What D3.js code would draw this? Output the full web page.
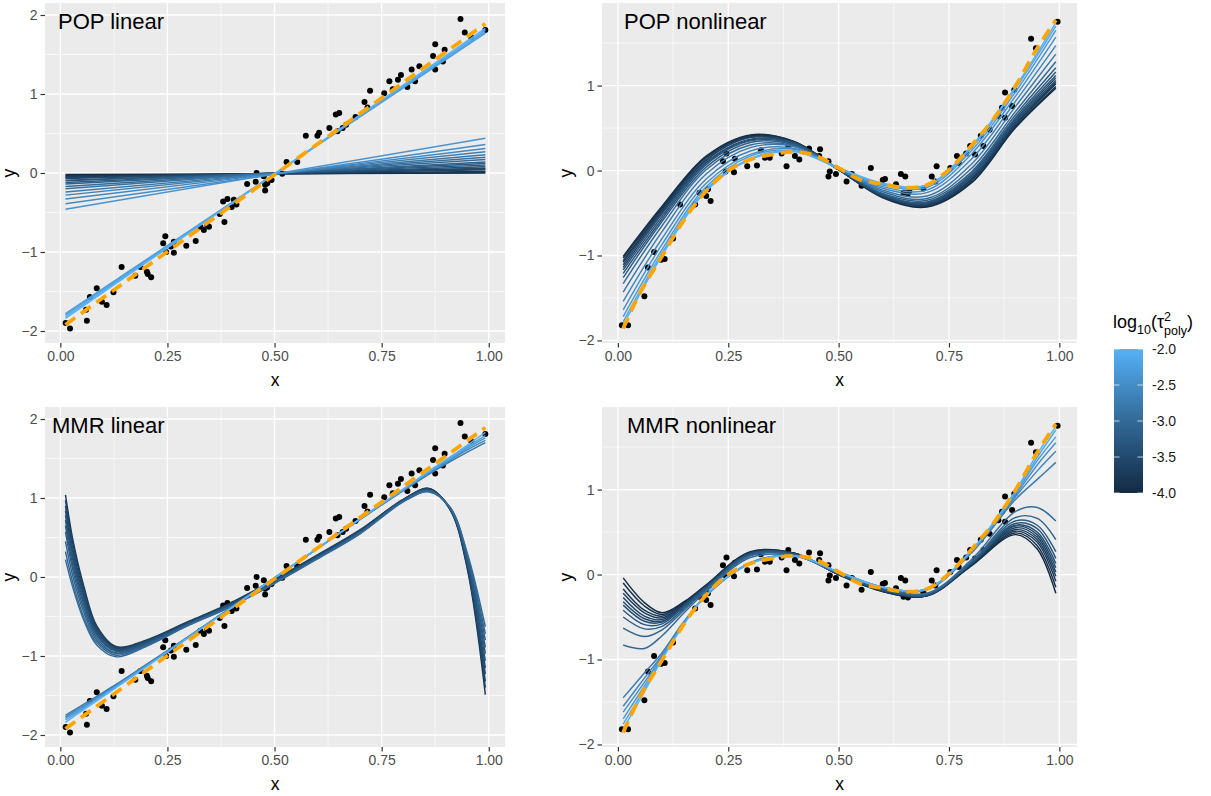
<!DOCTYPE html>
<html>
<head>
<meta charset="utf-8">
<script src="https://cdn.jsdelivr.net/npm/d3@7"></script>
<style>
  body { margin: 0; background: #fff; }
  svg { font-family: "Liberation Sans", Arial, sans-serif; }
</style>
</head>
<body>
<svg id="chart" width="1211" height="796"></svg>
<script>
// ---- tick labels ----
const xTicks = [0, 0.25, 0.5, 0.75, 1];
const xTickLabels = ["0.00", "0.25", "0.50", "0.75", "1.00"];
const xMinor = [0.125, 0.375, 0.625, 0.875];
const yTicksLin = [-2, -1, 0, 1, 2];
const yTicksNon = [-2, -1, 0, 1];
const yMinor = [-1.5, -0.5, 0.5, 1.5];
const legendBreaks = [-2, -2.5, -3, -3.5, -4];
const legendLabels = ["-2.0", "-2.5", "-3.0", "-3.5", "-4.0"];

// ---- observed points ----
const linPoints = [
  [0.0125,-1.90],[0.0226,-1.97],[0.060,-1.73],[0.062,-1.87],[0.069,-1.57],[0.085,-1.46],[0.097,-1.63],
  [0.108,-1.67],[0.124,-1.51],[0.143,-1.19],[0.175,-1.30],[0.187,-1.19],[0.202,-1.25],[0.204,-1.28],
  [0.212,-1.32],[0.240,-0.89],[0.245,-0.80],[0.247,-1.00],[0.258,-0.93],[0.265,-0.87],[0.265,-1.01],
  [0.294,-0.92],[0.316,-0.86],[0.327,-0.68],[0.335,-0.72],[0.343,-0.66],[0.347,-0.68],[0.372,-0.52],
  [0.380,-0.36],[0.383,-0.62],[0.390,-0.33],[0.400,-0.43],[0.405,-0.34],[0.411,-0.40],[0.436,-0.14],
  [0.456,-0.11],[0.458,0.00],[0.475,-0.04],[0.478,-0.15],[0.478,-0.22],[0.483,-0.13],[0.493,-0.09],
  [0.518,-0.01],[0.528,0.14],[0.553,0.14],[0.573,0.47],[0.600,0.47],[0.604,0.51],[0.628,0.57],
  [0.643,0.74],[0.651,0.76],[0.647,0.53],[0.659,0.57],[0.667,0.61],[0.689,0.71],[0.710,0.90],
  [0.717,0.83],[0.723,1.04],[0.756,1.01],[0.768,1.16],[0.776,1.06],[0.788,1.18],[0.795,1.24],
  [0.810,1.09],[0.820,1.31],[0.828,1.16],[0.838,1.35],[0.870,1.48],[0.875,1.63],[0.875,1.31],
  [0.893,1.41],[0.897,1.56],[0.934,1.95],[0.944,1.78],[0.959,1.72],[0.992,1.81]
];
const nonPoints = [
  [0.009,-1.82],[0.023,-1.82],[0.060,-1.48],[0.068,-1.14],[0.082,-0.96],[0.098,-1.05],[0.106,-1.04],
  [0.125,-0.80],[0.141,-0.40],[0.175,-0.40],[0.185,-0.26],[0.200,-0.30],[0.210,-0.36],[0.204,-0.22],
  [0.238,0.11],[0.244,-0.01],[0.246,0.20],[0.263,-0.02],[0.265,0.14],[0.293,0.05],[0.315,0.06],
  [0.324,0.24],[0.333,0.15],[0.344,0.15],[0.371,0.20],[0.382,0.05],[0.386,0.29],[0.401,0.17],
  [0.411,0.13],[0.433,0.26],[0.458,0.25],[0.456,0.17],[0.477,0.11],[0.477,-0.07],[0.480,-0.01],
  [0.494,-0.04],[0.518,-0.13],[0.530,-0.04],[0.552,-0.18],[0.573,0.03],[0.600,-0.11],[0.605,-0.10],
  [0.630,-0.16],[0.641,-0.04],[0.651,-0.07],[0.647,-0.26],[0.657,-0.27],[0.660,-0.24],[0.692,-0.21],
  [0.711,-0.07],[0.722,0.05],[0.719,-0.13],[0.753,0.03],[0.768,0.17],[0.772,0.09],[0.789,0.20],
  [0.798,0.29],[0.809,0.19],[0.822,0.41],[0.828,0.29],[0.842,0.48],[0.862,0.64],[0.870,0.74],
  [0.877,0.92],[0.877,0.62],[0.893,0.76],[0.898,0.95],[0.936,1.55],[0.947,1.44],[0.996,1.75]
];

// ---- true functions (orange dashed) ----
const truthLinX = [0.012, 0.992];
const truthLinY = [-1.92, 1.89];
const truthNonX = [0.012, 0.05, 0.1, 0.15, 0.2, 0.25, 0.3, 0.35, 0.4, 0.45, 0.5, 0.55, 0.6, 0.65, 0.7, 0.75, 0.8, 0.85, 0.9, 0.95, 0.992];
const truthNonY = [-1.86, -1.44, -1.01, -0.58, -0.24, 0.0, 0.13, 0.19, 0.22, 0.17, 0.03, -0.11, -0.16, -0.2, -0.17, 0.01, 0.29, 0.6, 0.99, 1.44, 1.77];

// ---- POP linear fits ----
const popLinX = [0.012, 0.992];
const popLinTau = [-4, -3.9, -3.8, -3.7, -3.6, -3.5, -3.4, -3.3, -3.2, -3.1, -3, -2.9, -2.8, -2.7, -2.6, -2.5, -2.4, -2.3, -2.2, -2.1, -2];
const popLinY = [
  [-0.02, 0.00], [-0.03, 0.01], [-0.04, 0.02], [-0.05, 0.04], [-0.06, 0.05], [-0.07, 0.06], [-0.09, 0.08],
  [-0.10, 0.10], [-0.12, 0.12], [-0.14, 0.14], [-0.17, 0.17], [-0.20, 0.20], [-0.24, 0.23], [-0.28, 0.27],
  [-0.33, 0.31], [-0.39, 0.36], [-0.46, 0.44], [-1.78, 1.77], [-1.80, 1.79], [-1.82, 1.81], [-1.84, 1.83]
];

// ---- POP nonlinear fits ----
const popNonX = [0.012, 0.1, 0.2, 0.3, 0.4, 0.5, 0.6, 0.7, 0.8, 0.9, 0.992];
const popNonTau = [-4, -3.9, -3.8, -3.7, -3.6, -3.5, -3.4, -3.3, -3.2, -3, -2.8, -2.6, -2.45, -2.3, -2.15, -2];
const popNonY = [
  [-1.01, -0.42, 0.17, 0.42, 0.34, 0.01, -0.32, -0.43, -0.15, 0.50, 0.97],
  [-1.03, -0.44, 0.16, 0.41, 0.34, 0.01, -0.31, -0.42, -0.14, 0.51, 0.99],
  [-1.06, -0.46, 0.15, 0.40, 0.33, 0.01, -0.31, -0.41, -0.12, 0.53, 1.02],
  [-1.08, -0.47, 0.13, 0.39, 0.33, 0.01, -0.31, -0.41, -0.11, 0.54, 1.04],
  [-1.11, -0.49, 0.12, 0.39, 0.33, 0.01, -0.30, -0.40, -0.10, 0.56, 1.06],
  [-1.14, -0.51, 0.10, 0.37, 0.32, 0.01, -0.29, -0.39, -0.08, 0.58, 1.09],
  [-1.17, -0.54, 0.09, 0.36, 0.32, 0.01, -0.29, -0.38, -0.06, 0.60, 1.12],
  [-1.21, -0.57, 0.07, 0.35, 0.31, 0.02, -0.28, -0.37, -0.04, 0.62, 1.16],
  [-1.26, -0.60, 0.04, 0.33, 0.30, 0.02, -0.27, -0.35, -0.02, 0.65, 1.21],
  [-1.33, -0.65, 0.01, 0.30, 0.29, 0.02, -0.25, -0.33, 0.02, 0.69, 1.28],
  [-1.43, -0.72, -0.04, 0.27, 0.28, 0.02, -0.23, -0.30, 0.07, 0.75, 1.37],
  [-1.54, -0.80, -0.10, 0.23, 0.26, 0.02, -0.21, -0.26, 0.13, 0.81, 1.47],
  [-1.64, -0.87, -0.15, 0.19, 0.25, 0.03, -0.19, -0.23, 0.19, 0.87, 1.57],
  [-1.72, -0.93, -0.19, 0.17, 0.23, 0.03, -0.17, -0.20, 0.23, 0.92, 1.65],
  [-1.78, -0.97, -0.22, 0.14, 0.23, 0.03, -0.16, -0.18, 0.26, 0.96, 1.70],
  [-1.82, -1.00, -0.24, 0.13, 0.22, 0.03, -0.15, -0.17, 0.28, 0.98, 1.74]
];

// ---- MMR linear fits ----
const mmrLinX = [0.012, 0.03, 0.055, 0.085, 0.13, 0.2, 0.3, 0.4, 0.5, 0.6, 0.7, 0.8, 0.86, 0.91, 0.95, 0.992];
const mmrLinTau = [-3.7, -3.63, -3.56, -3.49, -3.42, -3.35, -3.28, -3.21, -3.14, -3.07, -3, -2.8, -2.6, -2.4, -2.2, -2];
const mmrLinY = [
  [1.04, 0.45, -0.12, -0.62, -0.88, -0.80, -0.56, -0.32, -0.03, 0.28, 0.60, 0.98, 1.12, 0.85, 0.10, -1.49],
  [0.97, 0.40, -0.16, -0.64, -0.89, -0.81, -0.57, -0.33, -0.04, 0.27, 0.59, 0.98, 1.12, 0.85, 0.12, -1.40],
  [0.90, 0.34, -0.20, -0.66, -0.90, -0.81, -0.57, -0.33, -0.04, 0.27, 0.59, 0.98, 1.11, 0.86, 0.14, -1.32],
  [0.84, 0.29, -0.24, -0.68, -0.91, -0.82, -0.58, -0.34, -0.05, 0.26, 0.58, 0.97, 1.11, 0.86, 0.16, -1.23],
  [0.78, 0.24, -0.28, -0.70, -0.92, -0.83, -0.58, -0.34, -0.05, 0.26, 0.58, 0.97, 1.10, 0.86, 0.18, -1.15],
  [0.72, 0.19, -0.31, -0.72, -0.93, -0.83, -0.59, -0.35, -0.06, 0.25, 0.57, 0.97, 1.10, 0.87, 0.20, -1.06],
  [0.65, 0.13, -0.35, -0.74, -0.94, -0.84, -0.59, -0.35, -0.06, 0.25, 0.57, 0.96, 1.10, 0.87, 0.22, -0.97],
  [0.57, 0.07, -0.40, -0.77, -0.96, -0.85, -0.60, -0.36, -0.07, 0.24, 0.56, 0.96, 1.09, 0.87, 0.24, -0.89],
  [0.45, -0.01, -0.45, -0.80, -0.97, -0.86, -0.60, -0.36, -0.07, 0.24, 0.56, 0.96, 1.09, 0.87, 0.26, -0.80],
  [0.32, -0.09, -0.51, -0.83, -0.99, -0.87, -0.61, -0.37, -0.08, 0.23, 0.55, 0.95, 1.08, 0.88, 0.28, -0.72],
  [0.22, -0.15, -0.55, -0.86, -1.01, -0.88, -0.61, -0.37, -0.08, 0.23, 0.55, 0.95, 1.08, 0.88, 0.30, -0.63],
  [-1.75, -1.69, -1.61, -1.51, -1.36, -1.11, -0.75, -0.38, -0.01, 0.36, 0.73, 1.09, 1.30, 1.46, 1.58, 1.70],
  [-1.77, -1.71, -1.63, -1.53, -1.37, -1.12, -0.75, -0.38, -0.01, 0.36, 0.73, 1.10, 1.31, 1.48, 1.61, 1.73],
  [-1.79, -1.73, -1.65, -1.54, -1.38, -1.13, -0.76, -0.38, -0.01, 0.36, 0.74, 1.10, 1.32, 1.49, 1.63, 1.76],
  [-1.81, -1.75, -1.66, -1.55, -1.39, -1.13, -0.76, -0.39, -0.01, 0.36, 0.74, 1.11, 1.33, 1.51, 1.65, 1.79],
  [-1.84, -1.77, -1.68, -1.57, -1.40, -1.14, -0.76, -0.39, -0.01, 0.36, 0.74, 1.11, 1.34, 1.52, 1.67, 1.83]
];

// ---- MMR nonlinear fits ----
const mmrNonX = [0.012, 0.06, 0.1, 0.15, 0.2, 0.3, 0.4, 0.5, 0.6, 0.7, 0.8, 0.9, 0.95, 0.992];
const mmrNonTau = [-4, -3.9, -3.8, -3.7, -3.6, -3.5, -3.4, -3.3, -3.2, -3.1, -3, -2.75, -2.6, -2.45, -2.3, -2.15, -2];
const mmrNonY = [
  [-0.04, -0.33, -0.45, -0.32, -0.12, 0.27, 0.25, 0.00, -0.20, -0.25, 0.10, 0.47, 0.30, -0.22],
  [-0.10, -0.37, -0.47, -0.33, -0.13, 0.26, 0.25, 0.00, -0.20, -0.25, 0.11, 0.49, 0.34, -0.15],
  [-0.17, -0.42, -0.49, -0.34, -0.13, 0.26, 0.25, 0.00, -0.19, -0.25, 0.11, 0.51, 0.38, -0.08],
  [-0.22, -0.45, -0.51, -0.35, -0.14, 0.25, 0.24, 0.00, -0.19, -0.24, 0.12, 0.53, 0.41, -0.02],
  [-0.27, -0.49, -0.53, -0.36, -0.14, 0.25, 0.24, 0.01, -0.19, -0.24, 0.12, 0.55, 0.44, 0.03],
  [-0.32, -0.52, -0.55, -0.37, -0.15, 0.25, 0.24, 0.01, -0.18, -0.24, 0.13, 0.57, 0.47, 0.08],
  [-0.36, -0.55, -0.56, -0.37, -0.15, 0.24, 0.24, 0.01, -0.18, -0.24, 0.13, 0.58, 0.50, 0.13],
  [-0.42, -0.59, -0.58, -0.38, -0.16, 0.24, 0.24, 0.01, -0.18, -0.24, 0.13, 0.60, 0.54, 0.19],
  [-0.50, -0.64, -0.61, -0.40, -0.17, 0.23, 0.23, 0.01, -0.17, -0.23, 0.14, 0.63, 0.58, 0.27],
  [-0.63, -0.73, -0.65, -0.42, -0.18, 0.22, 0.23, 0.01, -0.16, -0.23, 0.15, 0.67, 0.66, 0.41],
  [-0.83, -0.87, -0.72, -0.45, -0.20, 0.20, 0.22, 0.02, -0.15, -0.22, 0.17, 0.74, 0.79, 0.63],
  [-1.45, -1.16, -0.92, -0.55, -0.25, 0.14, 0.22, 0.03, -0.15, -0.18, 0.25, 0.88, 1.12, 1.32],
  [-1.55, -1.22, -0.95, -0.56, -0.25, 0.14, 0.22, 0.03, -0.15, -0.18, 0.26, 0.91, 1.22, 1.45],
  [-1.62, -1.27, -0.97, -0.57, -0.24, 0.13, 0.22, 0.03, -0.15, -0.17, 0.27, 0.93, 1.29, 1.55],
  [-1.70, -1.31, -0.98, -0.57, -0.24, 0.13, 0.22, 0.03, -0.15, -0.17, 0.27, 0.95, 1.34, 1.62],
  [-1.76, -1.35, -0.99, -0.58, -0.24, 0.13, 0.22, 0.03, -0.15, -0.17, 0.28, 0.97, 1.38, 1.70],
  [-1.82, -1.38, -1.00, -0.58, -0.24, 0.13, 0.22, 0.03, -0.15, -0.17, 0.28, 0.98, 1.42, 1.74]
];

// ---- layout ----
const svg = d3.select("#chart");
const panelH = 340;
const panels = [
  { title: "POP linear", left: 45, top: 3, w: 460, xDom: [-0.0358, 1.0379], yDom: [2.152, -2.152], yTicks: yTicksLin,
    pts: linPoints, tx: truthLinX, ty: truthLinY, fx: popLinX, tau: popLinTau, fy: popLinY, labDx: 13, yTitleX: 15 },
  { title: "POP nonlinear", left: 602, top: 3, w: 475, xDom: [-0.036, 1.04], yDom: [1.972, -2.03], yTicks: yTicksNon,
    pts: nonPoints, tx: truthNonX, ty: truthNonY, fx: popNonX, tau: popNonTau, fy: popNonY, labDx: 22, yTitleX: 572 },
  { title: "MMR linear", left: 45, top: 407, w: 460, xDom: [-0.0358, 1.0379], yDom: [2.152, -2.152], yTicks: yTicksLin,
    pts: linPoints, tx: truthLinX, ty: truthLinY, fx: mmrLinX, tau: mmrLinTau, fy: mmrLinY, labDx: 7, yTitleX: 15 },
  { title: "MMR nonlinear", left: 602, top: 407, w: 475, xDom: [-0.036, 1.04], yDom: [1.972, -2.03], yTicks: yTicksNon,
    pts: nonPoints, tx: truthNonX, ty: truthNonY, fx: mmrNonX, tau: mmrNonTau, fy: mmrNonY, labDx: 25, yTitleX: 572 }
];

const color = d3.scaleLinear().domain([-4, -2]).range(["#132B43", "#56B1F7"]).interpolate(d3.interpolateLab);

panels.forEach((p, k) => {
  const x = d3.scaleLinear().domain(p.xDom).range([p.left, p.left + p.w]);
  const y = d3.scaleLinear().domain(p.yDom).range([p.top, p.top + panelH]);
  const g = svg.append("g");

  g.append("clipPath").attr("id", "clip" + k)
    .append("rect").attr("x", p.left).attr("y", p.top).attr("width", p.w).attr("height", panelH);

  g.append("rect").attr("x", p.left).attr("y", p.top).attr("width", p.w).attr("height", panelH)
    .attr("fill", "#EBEBEB");

  // grid
  const grid = g.append("g").attr("stroke", "#fff").attr("fill", "none");
  xMinor.forEach(v => grid.append("line").attr("x1", x(v)).attr("x2", x(v))
    .attr("y1", p.top).attr("y2", p.top + panelH).attr("stroke-width", 0.6));
  yMinor.forEach(v => grid.append("line").attr("y1", y(v)).attr("y2", y(v))
    .attr("x1", p.left).attr("x2", p.left + p.w).attr("stroke-width", 0.6));
  xTicks.forEach(v => grid.append("line").attr("x1", x(v)).attr("x2", x(v))
    .attr("y1", p.top).attr("y2", p.top + panelH).attr("stroke-width", 1.3));
  p.yTicks.forEach(v => grid.append("line").attr("y1", y(v)).attr("y2", y(v))
    .attr("x1", p.left).attr("x2", p.left + p.w).attr("stroke-width", 1.3));

  // axes
  const xAxis = d3.axisBottom(x).tickValues(xTicks).tickFormat((d, i) => xTickLabels[i])
    .tickSize(4.5).tickPadding(4);
  const ga = g.append("g").attr("transform", `translate(0,${p.top + panelH})`).call(xAxis);
  const yAxis = d3.axisLeft(y).tickValues(p.yTicks).tickFormat(d3.format("d")).tickSize(4.5).tickPadding(3);
  const gy = g.append("g").attr("transform", `translate(${p.left},0)`).call(yAxis);
  [ga, gy].forEach(a => {
    a.select(".domain").remove();
    a.selectAll(".tick line").attr("stroke", "#333").attr("stroke-width", 1.2);
    a.selectAll(".tick text").attr("fill", "#4D4D4D").style("font-size", "14px")
      .style("font-family", "'Liberation Sans', Arial, sans-serif");
  });

  // axis titles
  g.append("text").attr("x", p.left + p.w / 2).attr("y", p.top + panelH + 43)
    .attr("text-anchor", "middle").style("font-size", "17.5px").text("x");
  g.append("text").attr("transform", `translate(${p.yTitleX},${p.top + panelH / 2}) rotate(-90)`)
    .attr("text-anchor", "middle").style("font-size", "17.5px").text("y");

  const plot = g.append("g").attr("clip-path", `url(#clip${k})`);

  // points
  plot.append("g").selectAll("circle").data(p.pts).join("circle")
    .attr("cx", d => x(d[0])).attr("cy", d => y(d[1])).attr("r", 3).attr("fill", "#000");

  // fitted curves, darkest first
  const fitLine = d3.line().x(d => x(d[0])).y(d => y(d[1]))
    .curve(p.fx.length > 2 ? d3.curveCatmullRom.alpha(0.5) : d3.curveLinear);
  p.fy.forEach((row, i) => {
    plot.append("path").attr("d", fitLine(p.fx.map((xv, j) => [xv, row[j]])))
      .attr("fill", "none").attr("stroke", color(p.tau[i])).attr("stroke-width", 1.45);
  });

  // truth
  const truthLine = d3.line().x(d => x(d[0])).y(d => y(d[1])).curve(d3.curveCatmullRom.alpha(0.5));
  plot.append("path").attr("d", truthLine(p.tx.map((xv, j) => [xv, p.ty[j]])))
    .attr("fill", "none").attr("stroke", "#FFA500").attr("stroke-width", 3.8)
    .attr("stroke-dasharray", "12,7");

  // panel label
  g.append("text").attr("x", p.left + p.labDx).attr("y", p.top + 26)
    .style("font-size", "22px").attr("fill", "#000").text(p.title);
});

// ---- legend ----
const lg = svg.append("g");
const barX = 1114, barY = 349, barW = 29, barH = 144;
const defs = svg.append("defs");
const grad = defs.append("linearGradient").attr("id", "cbar")
  .attr("x1", 0).attr("y1", 1).attr("x2", 0).attr("y2", 0);
d3.range(0, 1.0001, 0.1).forEach(t => {
  grad.append("stop").attr("offset", t).attr("stop-color", color(-4 + 2 * t));
});
lg.append("rect").attr("x", barX).attr("y", barY).attr("width", barW).attr("height", barH)
  .attr("fill", "url(#cbar)");
const ly = d3.scaleLinear().domain([-2, -4]).range([barY, barY + barH]);
legendBreaks.forEach((b, i) => {
  lg.append("line").attr("x1", barX).attr("x2", barX + 5.5).attr("y1", ly(b)).attr("y2", ly(b))
    .attr("stroke", "#fff").attr("stroke-opacity", 0.7).attr("stroke-width", 1);
  lg.append("line").attr("x1", barX + barW - 5.5).attr("x2", barX + barW).attr("y1", ly(b)).attr("y2", ly(b))
    .attr("stroke", "#fff").attr("stroke-opacity", 0.7).attr("stroke-width", 1);
  lg.append("text").attr("x", barX + barW + 9).attr("y", ly(b)).attr("dy", "0.36em")
    .style("font-size", "14px").attr("fill", "#1a1a1a").text(legendLabels[i]);
});

// legend title: log10(tau^2_poly)
let cx = 1113;
function piece(str, size, base) {
  const t = lg.append("text").attr("x", cx).attr("y", base).style("font-size", size + "px").text(str);
  return t.node().getComputedTextLength();
}
cx += piece("log", 18, 328);
cx += piece("10", 12.5, 334);
cx += piece("(", 18, 328);
cx += piece("\u03C4", 18, 328);
const wSup = piece("2", 12.5, 321);
const wSub = piece("poly", 12.5, 335);
cx += Math.max(wSup, wSub);
piece(")", 18, 328);
</script>
</body>
</html>
